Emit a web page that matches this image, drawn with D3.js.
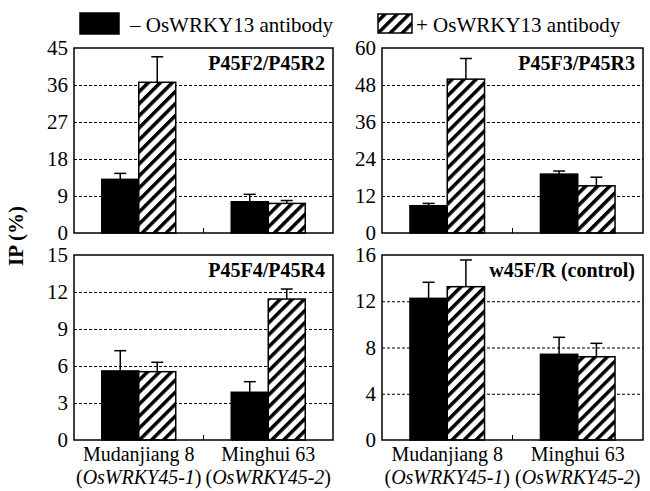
<!DOCTYPE html>
<html><head><meta charset="utf-8">
<script src="https://cdn.jsdelivr.net/npm/d3@7"></script>
</head>
<body style="margin:0;background:#fff">
<svg id="c" width="650" height="491"></svg>
<script>
const categories = ["Mudanjiang 8", "Minghui 63"];
const alleles = ["OsWRKY45-1", "OsWRKY45-2"];
const seriesNames = ["– OsWRKY13 antibody", "+ OsWRKY13 antibody"];
const panelTitles = ["P45F2/P45R2", "P45F3/P45R3", "P45F4/P45R4", "w45F/R (control)"];
const yMaxes = [45, 60, 15, 16];
const yTicks = [[0,9,18,27,36,45],[0,12,24,36,48,60],[0,3,6,9,12,15],[0,4,8,12,16]];
const minusValues = [[13.05, 7.6], [8.85, 19.1], [5.6, 3.87], [12.25, 7.41]];
const minusErrors = [[1.45, 1.8], [0.75, 1.0], [1.64, 0.86], [1.39, 1.47]];
const plusValues  = [[36.66, 7.2], [49.9, 15.3], [5.54, 11.43], [13.26, 7.2]];
const plusErrors  = [[6.2, 0.7], [6.7, 2.8], [0.76, 0.81], [2.31, 1.16]];
const yLabel = "IP (%)";

const FONT = "Liberation Serif";
const svg = d3.select("#c").style("font-family", FONT);
function txt(sel, size, bold){
  return sel.style("font-family", FONT).style("font-size", size+"px")
    .style("font-weight", bold ? "bold" : "normal").attr("fill","#000");
}
const defs = svg.append("defs");
const pat = defs.append("pattern").attr("id","hatch").attr("patternUnits","userSpaceOnUse")
  .attr("width",8.5).attr("height",8.5).attr("patternTransform","rotate(45)");
pat.append("rect").attr("width",8.5).attr("height",8.5).attr("fill","#fff");
pat.append("line").attr("x1",0).attr("y1",0).attr("x2",0).attr("y2",8.5)
  .attr("stroke","#000").attr("stroke-width",7);

const colsX = [[74,333],[382,643]];
const rowsY = [[48,233],[255,440]];
const fills = ["#000","url(#hatch)"];

panelTitles.forEach((title,i)=>{
  const [x0,x1] = colsX[i%2];
  const [y0,y1] = rowsY[Math.floor(i/2)];
  const g = svg.append("g");
  const y = d3.scaleLinear().domain([0,yMaxes[i]]).range([y1,y0]);
  const x = d3.scaleBand().domain(categories).range([x0,x1]).padding(0);
  const xs = d3.scaleBand().domain([0,1]).range([0,x.bandwidth()]).paddingInner(0).paddingOuter(0.75);

  const grid = g.append("g").attr("transform",`translate(${x0},0)`)
    .call(d3.axisLeft(y).tickValues(yTicks[i].filter(v=>v>0 && v<yMaxes[i])).tickSize(-(x1-x0)).tickFormat(""));
  grid.select(".domain").remove();
  grid.selectAll("line").attr("stroke","#000").attr("stroke-width",1).attr("stroke-dasharray","3,2");

  const ax = g.append("g").attr("transform",`translate(${x0},0)`)
    .call(d3.axisLeft(y).tickValues(yTicks[i]).tickSize(0).tickPadding(6));
  ax.attr("font-family", FONT).attr("font-size", 21);
  ax.select(".domain").remove();
  txt(ax.selectAll("text"), 21, false);

  const vals = [minusValues[i], plusValues[i]];
  const errs = [minusErrors[i], plusErrors[i]];
  categories.forEach((c,ci)=>{
    [0,1].forEach(s=>{
      const bx = x(c)+xs(s), bw = xs.bandwidth();
      const v = vals[s][ci], e = errs[s][ci];
      const cx = bx+bw/2;
      g.append("line").attr("x1",cx).attr("x2",cx).attr("y1",y(v)).attr("y2",y(v+e))
        .attr("stroke","#000").attr("stroke-width",1.5);
      g.append("line").attr("x1",cx-6).attr("x2",cx+6).attr("y1",y(v+e)).attr("y2",y(v+e))
        .attr("stroke","#000").attr("stroke-width",1.5);
      g.append("rect").attr("x",bx).attr("y",y(v)).attr("width",bw).attr("height",y(0)-y(v))
        .attr("fill",fills[s]).attr("stroke","#000").attr("stroke-width",1.5);
    });
  });

  const mid = x(categories[1]);
  g.append("line").attr("x1",mid).attr("x2",mid).attr("y1",y1).attr("y2",y1-5).attr("stroke","#000").attr("stroke-width",1);

  g.append("rect").attr("x",x0).attr("y",y0).attr("width",x1-x0).attr("height",y1-y0)
    .attr("fill","none").attr("stroke","#000").attr("stroke-width",1.5);

  txt(g.append("text").attr("x",x1-8).attr("y",y0+22).attr("text-anchor","end"), 20, true).text(title);

  if (i>=2){
    categories.forEach((c,ci)=>{
      const cx = x(c)+x.bandwidth()/2;
      txt(g.append("text").attr("x",cx).attr("y",461).attr("text-anchor","middle"), 20, false).text(c);
      const t = txt(g.append("text").attr("x",cx).attr("y",484).attr("text-anchor","middle"), 20, false);
      t.append("tspan").text("(");
      t.append("tspan").style("font-style","italic").text(alleles[ci]);
      t.append("tspan").text(")");
    });
  }
});

txt(svg.append("text").attr("transform","translate(23,236) rotate(-90)").attr("text-anchor","middle"), 21, true).text(yLabel);

const legRect = [[80,13,39,21],[378,14,34,19]];
const legText = [130,416];
seriesNames.forEach((n,s)=>{
  const [rx,ry,rw,rh] = legRect[s];
  svg.append("rect").attr("x",rx).attr("y",ry).attr("width",rw).attr("height",rh)
    .attr("fill",fills[s]).attr("stroke","#000").attr("stroke-width",1.5);
  txt(svg.append("text").attr("x",legText[s]).attr("y",32), 21, false).text(n);
});
</script></body></html>
